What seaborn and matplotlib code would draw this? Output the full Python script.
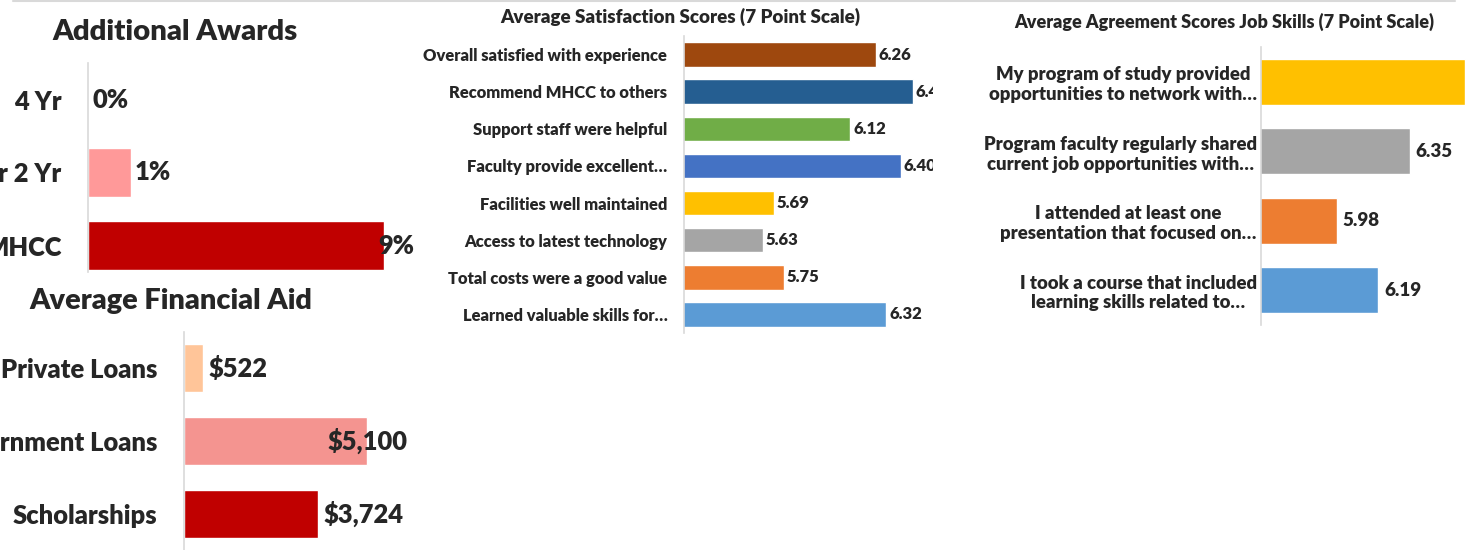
import matplotlib
matplotlib.use("Agg")
import matplotlib.pyplot as plt
import seaborn as sns
from matplotlib.lines import Line2D

# data
award_cats = ["4 Yr", "Other 2 Yr", "MHCC"]
award_vals = [0.0, 1.3, 9.0]
award_colors = ["#FF9999", "#FF9999", "#C00000"]

aid_cats = ["Private Loans", "Government Loans", "Scholarships"]
aid_vals = [522, 5100, 3724]
aid_colors = ["#FFC599", "#F49490", "#C00000"]

sat_cats = ["Overall satisfied with experience", "Recommend MHCC to others",
            "Support staff were helpful", "Faculty provide excellent…",
            "Facilities well maintained", "Access to latest technology",
            "Total costs were a good value", "Learned valuable skills for…"]
sat_vals = [6.26, 6.47, 6.12, 6.40, 5.69, 5.63, 5.75, 6.32]
sat_colors = ["#9E480E", "#255E91", "#70AD47", "#4472C4",
              "#FFC000", "#A5A5A5", "#ED7D31", "#5B9BD5"]

job_cats = ["My program of study provided\nopportunities to network with…",
            "Program faculty regularly shared\ncurrent job opportunities with…",
            "I attended at least one\npresentation that focused on…",
            "I took a course that included\nlearning skills related to…"]
job_vals = [6.63, 6.35, 5.98, 6.19]
job_colors = ["#FFC000", "#A5A5A5", "#ED7D31", "#5B9BD5"]

W, H = 1471, 550
BOLD = 800
sns.set_style("white")
plt.rcParams['font.family'] = ['Lato', 'DejaVu Sans']
plt.rcParams['font.weight'] = BOLD
fig = plt.figure(figsize=(W / 100, H / 100), dpi=100)


def box(x0, y0, x1, y1):
    # pixel box -> figure fraction
    return [x0 / W, 1 - y1 / H, (x1 - x0) / W, (y1 - y0) / H]


def panel(rect, cats, vals, colors, xlim, width, lab_size, pad, fmt, val_size, off, clip):
    ax = fig.add_axes(rect)
    sns.barplot(x=vals, y=cats, hue=cats, palette=colors, saturation=1,
                legend=False, orient="h", width=width, ax=ax)
    ax.set_xlim(*xlim)
    ax.set_ylim(len(cats) - 0.5, -0.5)
    ax.set_xlabel("")
    ax.set_ylabel("")
    ax.set_xticks([])
    ax.set_yticks(range(len(cats)))
    ax.set_yticklabels(cats, fontsize=lab_size, fontweight=BOLD, multialignment="center")
    for s in ["top", "right", "bottom"]:
        ax.spines[s].set_visible(False)
    ax.spines["left"].set_color("#d9d9d9")
    ax.spines["left"].set_linewidth(1.2)
    ax.tick_params(axis="y", length=0, pad=pad)
    texts = []
    for i, v in enumerate(vals):
        t = ax.annotate(fmt.format(v), (v, i), textcoords="offset points",
                        xytext=(off, 0), ha="left", va="center",
                        fontsize=val_size, fontweight=BOLD, annotation_clip=False)
        if clip:
            t.set_clip_on(True)
            t.set_clip_box(ax.bbox)
        texts.append(t)
    return ax, texts


ax1, t1 = panel(box(88, 63, 414, 282), award_cats, award_vals, award_colors,
                (0, 326 / 32.9), 0.68, 18.4, 19, "{:.0f}%", 18.4, 3, False)
ax1.spines["left"].set_bounds(2.36, -0.5)
ax2, t2 = panel(box(184, 331.5, 407, 550.5), aid_cats, aid_vals, aid_colors,
                (0, 223 / 0.0359), 0.66, 18.4, 19, "${:,.0f}", 18.4, 4, False)
ax3, t3 = panel(box(684, 36, 933, 333), sat_cats, sat_vals, sat_colors,
                (5.19, 5.19 + 249 / 179), 0.66, 11.9, 12, "{:.2f}", 12, 2, True)
ax4, t4 = panel(box(1261, 47.3, 1471, 324.7), job_cats, job_vals, job_colors,
                (5.594, 5.594 + 210 / 197), 0.66, 13.3, 3, "{:.2f}", 13.5, 4, False)

# labels that run past the plot area get pulled back inside it
fig.canvas.draw()
r = fig.canvas.get_renderer()
for ax, texts in [(ax1, t1), (ax2, t2)]:
    right = ax.get_window_extent(r).x1
    for t in texts:
        if t.get_window_extent(r).x1 > right:
            t.set_position((0, 0))
            t.xy = (ax.get_xlim()[1], t.xy[1])
            t.set_ha("right")

fig.text(175 / W, 1 - 32 / H, "Additional Awards", ha="center", va="center",
         fontsize=21.2, fontweight=BOLD)
fig.text(171 / W, 1 - 301 / H, "Average Financial Aid", ha="center", va="center",
         fontsize=20.8, fontweight=BOLD)
fig.text(680 / W, 1 - 17 / H, "Average Satisfaction Scores (7 Point Scale)",
         ha="center", va="center", fontsize=13.5, fontweight=BOLD)
fig.text(1224 / W, 1 - 22 / H, "Average Agreement Scores Job Skills (7 Point Scale)",
         ha="center", va="center", fontsize=13.0, fontweight=BOLD)

fig.add_artist(Line2D([13 / W, 1455 / W], [1 - 1 / H, 1 - 1 / H],
                      color="#d9d9d9", lw=1.5))

fig.savefig("out.png", dpi=100)
